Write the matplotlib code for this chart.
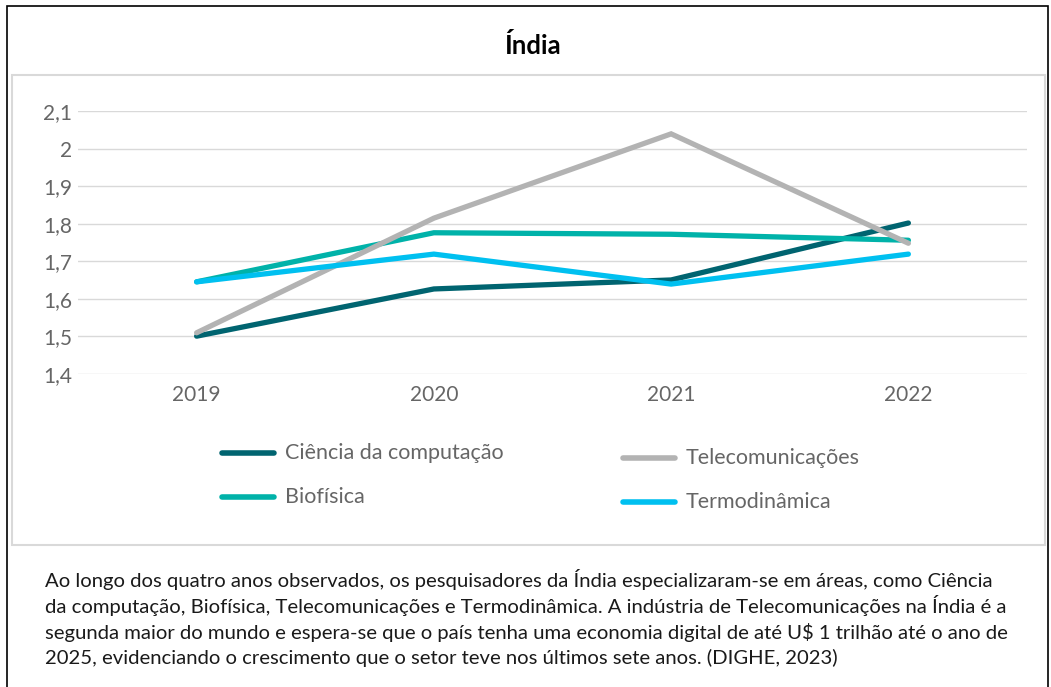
import matplotlib
matplotlib.use("Agg")
import matplotlib.pyplot as plt
from matplotlib.patches import Rectangle
from matplotlib.ticker import FuncFormatter

plt.rcParams['font.family'] = ['Lato', 'DejaVu Sans']

# data
anos = ['2019', '2020', '2021', '2022']
ciencia = [1.50, 1.626, 1.65, 1.802]
telecom = [1.509, 1.815, 2.04, 1.748]
biofisica = [1.645, 1.776, 1.772, 1.756]
termo = [1.645, 1.719, 1.639, 1.719]
yticks = [1.4, 1.5, 1.6, 1.7, 1.8, 1.9, 2.0, 2.1]

titulo = 'Índia'
legenda = ['Ciência da computação', 'Biofísica', 'Telecomunicações', 'Termodinâmica']
texto = [
    'Ao longo dos quatro anos observados, os pesquisadores da Índia especializaram-se em áreas, como Ciência',
    'da computação, Biofísica, Telecomunicações e Termodinâmica. A indústria de Telecomunicações na Índia é a',
    'segunda maior do mundo e espera-se que o país tenha uma economia digital de até U$ 1 trilhão até o ano de',
    '2025, evidenciando o crescimento que o setor teve nos últimos sete anos. (DIGHE, 2023)',
]

W, H = 1051, 687
fig = plt.figure(figsize=(W / 100, H / 100), dpi=100)

def fx(px):
    return px / W

def fy(py):
    return 1 - py / H

# outer black frame and inner grey chart box
fig.patches.append(Rectangle((fx(7), fy(695)), fx(1048) - fx(7), fy(6) - fy(695),
                             transform=fig.transFigure, fill=False, ec='black', lw=1.2))
fig.patches.append(Rectangle((fx(12), fy(545)), fx(1045) - fx(12), fy(75) - fy(545),
                             transform=fig.transFigure, fill=False, ec='#d9d9d9', lw=1.5))

ax = fig.add_axes([fx(78), fy(374), fx(1027) - fx(78), fy(111) - fy(374)])
x = range(len(anos))
cores = ['#006470', '#00b2a9', '#b3b3b3', '#00c0f0']
series = [ciencia, biofisica, telecom, termo]
linhas = []
for s, c, lab in zip(series, cores, legenda):
    l, = ax.plot(x, s, color=c, lw=3.8, solid_capstyle='round', solid_joinstyle='miter', label=lab)
    linhas.append(l)
ax.set_xlim(-0.5, 3.5)
ax.set_ylim(1.399, 2.101)
ax.set_yticks(yticks)
ax.yaxis.set_major_formatter(FuncFormatter(lambda v, p: f'{v:g}'.replace('.', ',')))
ax.set_xticks(list(x))
ax.set_xticklabels(anos)
ax.grid(axis='y', color='#d9d9d9', lw=1)
ax.set_axisbelow(True)
for sp in ax.spines.values():
    sp.set_visible(False)
ax.tick_params(length=0, labelsize=15, colors='#666666')
ax.tick_params(axis='y', pad=4)
ax.tick_params(axis='x', pad=8)

fig.text(fx(533), fy(45), titulo, ha='center', va='center', fontsize=18.5, fontweight='bold', color='black')

# legend, two columns placed as in the reference
pos = [(222, 453), (222, 497), (623, 458), (623, 502)]
for l, (px, py), lab in zip(linhas, pos, legenda):
    fig.lines.append(plt.Line2D([fx(px), fx(px + 52)], [fy(py), fy(py)], transform=fig.transFigure,
                                color=l.get_color(), lw=4, solid_capstyle='round'))
    fig.text(fx(px + 63), fy(py), lab, ha='left', va='center', fontsize=15.5, color='#666666')

for i, linha in enumerate(texto):
    fig.text(fx(45), fy(580 + 26 * i), linha, ha='left', va='center', fontsize=14.6, color='#1a1a1a')

fig.savefig('out.png', dpi=100)
